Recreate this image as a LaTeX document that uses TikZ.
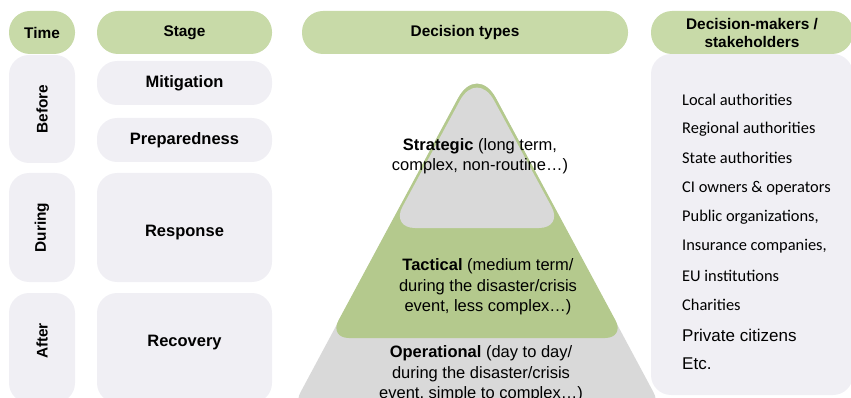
\documentclass[tikz,border=0pt]{standalone}
\usepackage{fontspec}
\setmainfont{Liberation Sans}
\newfontfamily\listfont{Carlito}
\definecolor{headgreen}{HTML}{C8DAA8}
\definecolor{tacgreen}{HTML}{B4C98D}
\definecolor{boxgrey}{HTML}{F0EFF4}
\definecolor{pyrgrey}{HTML}{D9D9D9}
\begin{document}
\begin{tikzpicture}[x=1pt, y=-1pt,
  head/.style={rectangle, rounded corners=21pt, fill=headgreen, inner sep=0pt,
    font=\fontsize{15.4}{18}\selectfont\bfseries, align=center},
  cell/.style={rectangle, rounded corners=20pt, fill=boxgrey, inner sep=0pt,
    font=\fontsize{16.5}{19}\selectfont\bfseries},
  vlabel/.style={rotate=90, font=\fontsize{15.4}{18}\selectfont\bfseries},
  level/.style={align=center, font=\fontsize{16.5}{20.5}\selectfont},
  item/.style={anchor=west, inner sep=0pt, font=\fontsize{16.4}{19}\listfont},
  itemb/.style={anchor=west, inner sep=0pt, font=\fontsize{17}{19}\selectfont}]
\useasboundingbox (0,0) rectangle (851,398);
\clip (0,0) rectangle (851,398);
% time column
\node[cell, minimum width=66pt, minimum height=108pt] (tBefore) at (42,109){};
\node[cell, minimum width=66pt, minimum height=109pt] (tDuring) at (42,227.5){};
\node[cell, minimum width=66pt, minimum height=110pt] (tAfter) at (42,348){};
\node[vlabel] at (tBefore) {Before};
\node[vlabel] at (tDuring) {During};
\node[vlabel] at (42,341) {After};
\node[head, minimum width=66pt, minimum height=43pt] (hTime) at (42,32.5){Time};
% stage column
\node[head, minimum width=175pt, minimum height=43pt] (hStage) at (184.5,32.5){Stage};
\node[cell, minimum width=175pt, minimum height=44pt] (sMit) at (184.5,83){Mitigation};
\node[cell, minimum width=175pt, minimum height=44pt] (sPrep) at (184.5,140){Preparedness};
\node[cell, minimum width=175pt, minimum height=109pt] (sResp) at (184.5,227.5){};
\node[cell, minimum width=175pt, minimum height=110pt] (sRec) at (184.5,348){};
\node[font=\fontsize{16.5}{19}\selectfont\bfseries] at (184.5,233) {Response};
\node[font=\fontsize{16.5}{19}\selectfont\bfseries] at (184.5,343) {Recovery};
% decision pyramid
\node[head, minimum width=326pt, minimum height=43pt] (hTypes) at (465,32.5){Decision types};
\fill[pyrgrey, rounded corners=20pt] (477,410) -- (291,410) [rounded corners=40pt] -- (477,63)
  [rounded corners=20pt] -- (663,410) -- cycle;
\fill[tacgreen, rounded corners=20pt] (477,338) -- (329,338) [rounded corners=40pt] -- (477,63)
  [rounded corners=20pt] -- (625,338) -- cycle;
\fill[pyrgrey, rounded corners=24pt] (477,228) -- (391,228) [rounded corners=36pt] -- (477,69)
  [rounded corners=24pt] -- (563,228) -- cycle;
\node[level] (pStrat) at (480,156) {\textbf{Strategic} (long term,\\complex, non-routine\dots)};
\node[level] (pTact) at (488,287) {\textbf{Tactical} (medium term/\\during the disaster/crisis\\event, less complex\dots)};
\node[level] (pOper) at (481,374) {\textbf{Operational} (day to day/\\during the disaster/crisis\\event, simple to complex\dots)};
% decision-makers column
\node[cell, minimum width=202pt, minimum height=341pt] (mBody) at (752,224.5){};
\node[head, minimum width=202pt, minimum height=43pt] (hMakers) at (752,32.5){Decision-makers /\\stakeholders};
\node[item] (m1) at (682,100) {Local authorities};
\node[item] (m2) at (682,129) {Regional authorities};
\node[item] (m3) at (682,158) {State authorities};
\node[item] (m4) at (682,188) {CI owners \& operators};
\node[item] (m5) at (682,217) {Public organizations,};
\node[item] (m6) at (682,246) {Insurance companies,};
\node[item] (m7) at (682,276) {EU institutions};
\node[item] (m8) at (682,305) {Charities};
\node[itemb] (m9) at (682,335) {Private citizens};
\node[itemb] (m10) at (682,364) {Etc.};
\end{tikzpicture}
\end{document}
